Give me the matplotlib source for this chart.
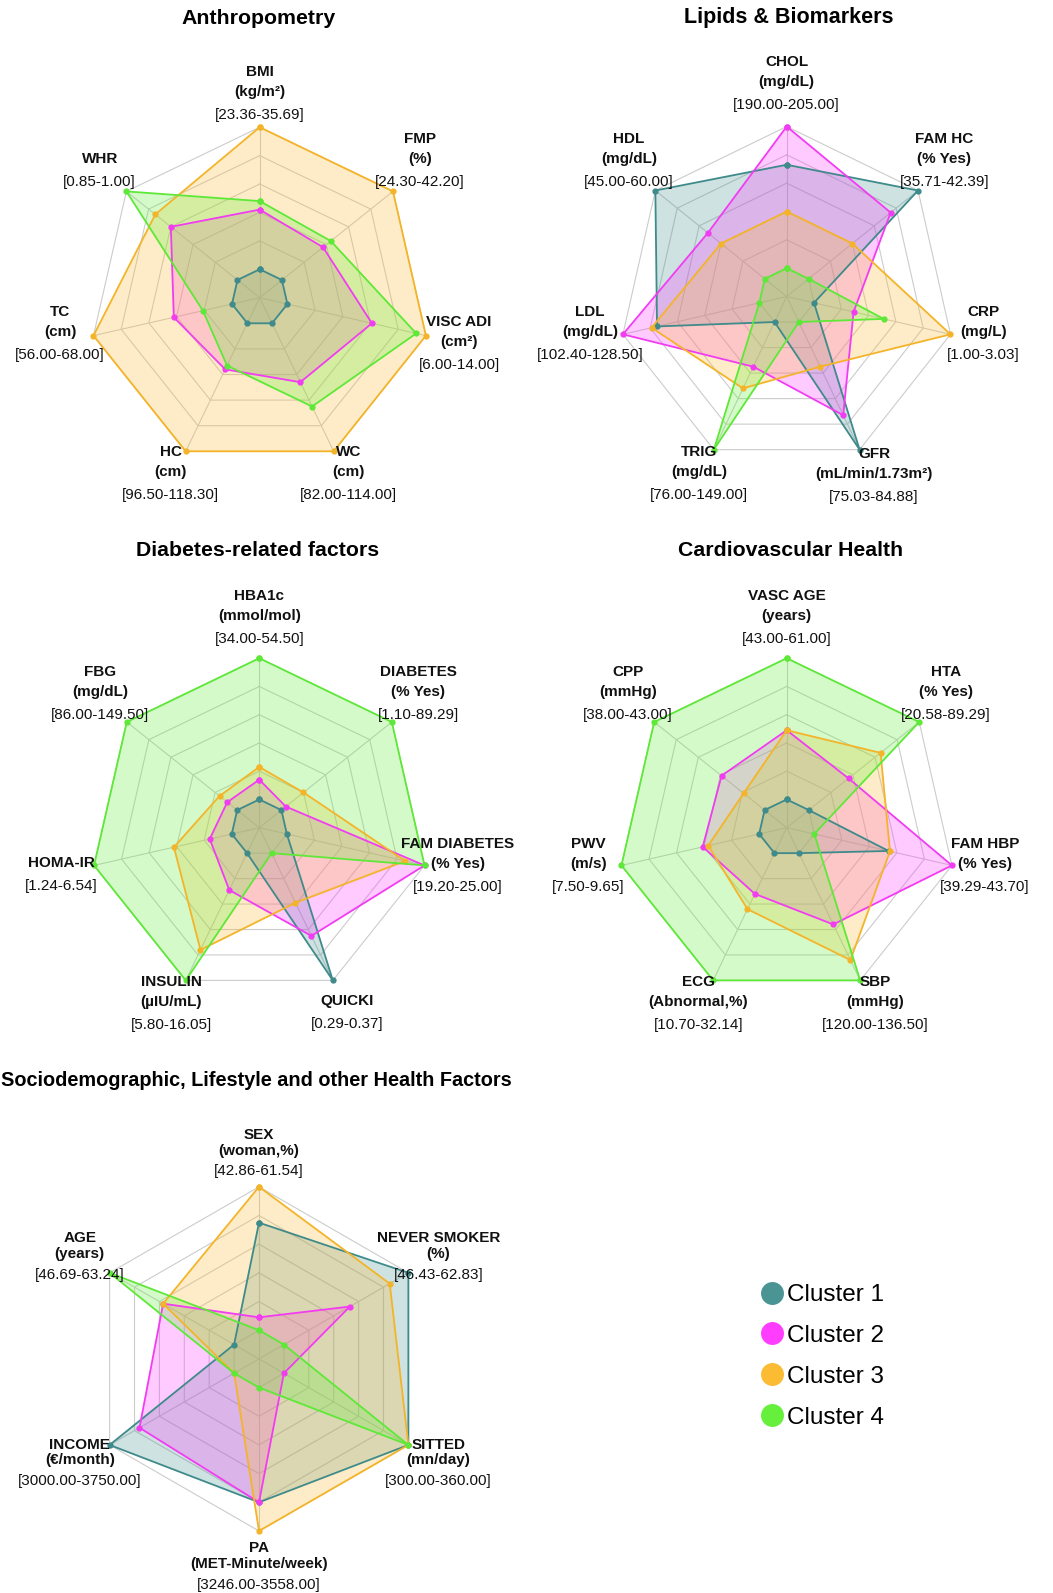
import numpy as np
import matplotlib
matplotlib.use('Agg')
import matplotlib.pyplot as plt
from matplotlib.lines import Line2D

plt.rcParams['font.family'] = ['Liberation Sans', 'DejaVu Sans']

# scores are scaled 0-1 inside the range shown under each axis
clusters = ['Cluster 1', 'Cluster 2', 'Cluster 3', 'Cluster 4']
line_cols = ['#3F8A8A', '#F23CF2', '#F4B42A', '#5EE838']
fill_cols = ['#4A9494', '#FF3DFF', '#FBBC33', '#66F03C']

anthro_names = ['BMI', 'FMP', 'VISC ADI', 'WC', 'HC', 'TC', 'WHR']
anthro_units = ['(kg/m²)', '(%)', '(cm²)', '(cm)', '(cm)', '(cm)', None]
anthro_ranges = ['[23.36-35.69]', '[24.30-42.20]', '[6.00-14.00]', '[82.00-114.00]',
                 '[96.50-118.30]', '[56.00-68.00]', '[0.85-1.00]']
anthro_vals = [[0, 0, 0, 0, 0, 0, 0],
               [0.42, 0.37, 0.61, 0.46, 0.36, 0.42, 0.60],
               [1, 1, 1, 1, 1, 1, 0.74],
               [0.48, 0.44, 0.93, 0.65, 0.33, 0.21, 1]]

lipid_names = ['CHOL', 'FAM HC', 'CRP', 'GFR', 'TRIG', 'LDL', 'HDL']
lipid_units = ['(mg/dL)', '(% Yes)', '(mg/L)', '(mL/min/1.73m²)', '(mg/dL)', '(mg/dL)', '(mg/dL)']
lipid_ranges = ['[190.00-205.00]', '[35.71-42.39]', '[1.00-3.03]', '[75.03-84.88]',
                '[76.00-149.00]', '[102.40-128.50]', '[45.00-60.00]']
lipid_vals = [[0.73, 1, 0, 1, 0, 0.75, 1],
              [1, 0.75, 0.29, 0.73, 0.35, 1, 0.52],
              [0.40, 0.40, 1, 0.35, 0.52, 0.79, 0.40],
              [0, 0, 0.51, 0, 1, 0, 0]]

diab_names = ['HBA1c', 'DIABETES', 'FAM DIABETES', 'QUICKI', 'INSULIN', 'HOMA-IR', 'FBG']
diab_units = ['(mmol/mol)', '(% Yes)', '(% Yes)', None, '(µIU/mL)', None, '(mg/dL)']
diab_ranges = ['[34.00-54.50]', '[1.10-89.29]', '[19.20-25.00]', '[0.29-0.37]',
               '[5.80-16.05]', '[1.24-6.54]', '[86.00-149.50]']
diab_vals = [[0, 0, 0, 1, 0, 0, 0],
             [0.14, 0.04, 1, 0.65, 0.29, 0.16, 0.09],
             [0.23, 0.20, 0.86, 0.39, 0.76, 0.42, 0.16],
             [1, 1, 1, 0, 1, 1, 1]]

cardio_names = ['VASC AGE', 'HTA', 'FAM HBP', 'SBP', 'ECG', 'PWV', 'CPP']
cardio_units = ['(years)', '(% Yes)', '(% Yes)', '(mmHg)', '(Abnormal,%)', '(m/s)', '(mmHg)']
cardio_ranges = ['[43.00-61.00]', '[20.58-89.29]', '[39.29-43.70]', '[120.00-136.50]',
                 '[10.70-32.14]', '[7.50-9.65]', '[38.00-43.00]']
cardio_vals = [[0, 0, 0.54, 0, 0, 0, 0],
               [0.49, 0.36, 1, 0.56, 0.32, 0.41, 0.39],
               [0.49, 0.65, 0.55, 0.84, 0.44, 0.37, 0.19],
               [1, 1, 0, 1, 1, 1, 1]]

socio_names = ['SEX', 'NEVER SMOKER', 'SITTED', 'PA', 'INCOME', 'AGE']
socio_units = ['(woman,%)', '(%)', '(mn/day)', '(MET-Minute/week)', '(€/month)', '(years)']
socio_ranges = ['[42.86-61.54]', '[46.43-62.83]', '[300.00-360.00]', '[3246.00-3558.00]',
                '[3000.00-3750.00]', '[46.69-63.24]']
socio_vals = [[0.75, 1, 1, 0.80, 1, 0],
              [0.09, 0.53, 0, 0.80, 0.76, 0.57],
              [1, 0.85, 1, 1, 0, 0.57],
              [0, 0, 1, 0, 0, 1]]

W, H = 1053, 1593
fig = plt.figure(figsize=(W / 100, H / 100), dpi=100)


def radar(cx, cy, rx, ry, names, units, ranges, vals, shifts=None, shift3=10.5,
          off3=(20, 0, -23)):
    L = 1.5
    ax = fig.add_axes([(cx - L * rx) / W, 1 - (cy + L * ry) / H, 2 * L * rx / W, 2 * L * ry / H])
    ax.set_xlim(-L, L)
    ax.set_ylim(-L, L)
    ax.axis('off')
    n = len(names)
    ang = np.pi / 2 - 2 * np.pi * np.arange(n) / n
    ca, sa = np.cos(ang), np.sin(ang)

    # rings + spokes
    for k in range(1, 7):
        r = k / 6
        ax.plot(np.r_[r * ca, r * ca[0]], np.r_[r * sa, r * sa[0]], color='#CCCCCC', lw=0.8, zorder=1)
    for c, s in zip(ca, sa):
        ax.plot([0, c], [0, s], color='#CCCCCC', lw=0.8, zorder=1)

    for v, lc, fc in zip(vals, line_cols, fill_cols):
        r = (1 + 5 * np.array(v)) / 6
        x, y = r * ca, r * sa
        ax.fill(x, y, color=fc, alpha=0.27, lw=0, zorder=2)
        ax.plot(np.r_[x, x[0]], np.r_[y, y[0]], color=lc, lw=1.3, marker='o', ms=3.5, zorder=3)

    # axis labels: bold name (+ unit), regular range
    for i in range(n):
        xy = (1.2 * ca[i], 1.2 * sa[i])
        if shifts is not None:
            s = shifts[i]
        else:
            s = 0 if units[i] is None else shift3
        s -= 2
        if units[i] is None:
            parts = [(names[i], 'bold', 11.5 + s), (ranges[i], 'normal', -11.5 + s)]
        else:
            parts = [(names[i], 'bold', off3[0] + s), (units[i], 'bold', off3[1] + s),
                     (ranges[i], 'normal', off3[2] + s)]
        for txt, fw, off in parts:
            ax.annotate(txt, xy=xy, xytext=(0, off * 0.72), textcoords='offset points',
                        ha='center', va='center', fontsize=11, fontweight=fw, color='#111111',
                        annotation_clip=False)
    return ax


radar(259.7, 297.7, 170.5, 170.5, anthro_names, anthro_units, anthro_ranges, anthro_vals,
      shifts=[3, 13, 3, 12, 12, 13, 2])
radar(786.7, 296.5, 168, 170, lipid_names, lipid_units, lipid_ranges, lipid_vals,
      shifts=[12.5, 12.5, 12, 8.5, 10, 12, 12.5])
radar(259.3, 827.7, 169.5, 169.5, diab_names, diab_units, diab_ranges, diab_vals)
radar(786.7, 827.7, 169.5, 169.5, cardio_names, cardio_units, cardio_ranges, cardio_vals)
radar(259.0, 1358.9, 172.5, 172.1, socio_names, socio_units, socio_ranges, socio_vals,
      shift3=3.7, off3=(15.6, 0, -20.8))

tkw = dict(fontweight='bold', va='center')
fig.text(259 / W, 1 - 18 / H, 'Anthropometry', ha='center', fontsize=15.3, **tkw)
fig.text(789 / W, 1 - 18 / H, 'Lipids & Biomarkers', ha='center', fontsize=15.5, **tkw)
fig.text(258 / W, 1 - 550 / H, 'Diabetes-related factors', ha='center', fontsize=15.3, **tkw)
fig.text(791 / W, 1 - 550 / H, 'Cardiovascular Health', ha='center', fontsize=15.3, **tkw)
fig.text(1 / W, 1 - 1080 / H, 'Sociodemographic, Lifestyle and other Health Factors', ha='left',
         fontsize=14.3, **tkw)

handles = [Line2D([], [], ls='none', marker='o', ms=15.5, color=c) for c in fill_cols]
fig.legend(handles, clusters, loc='upper left', bbox_to_anchor=(760 / W, 1 - 1284 / H),
           frameon=False, fontsize=17.5, handlelength=1.0, handletextpad=0.1,
           labelspacing=0.78, borderpad=0, borderaxespad=0)

fig.savefig('out.png', dpi=100)
